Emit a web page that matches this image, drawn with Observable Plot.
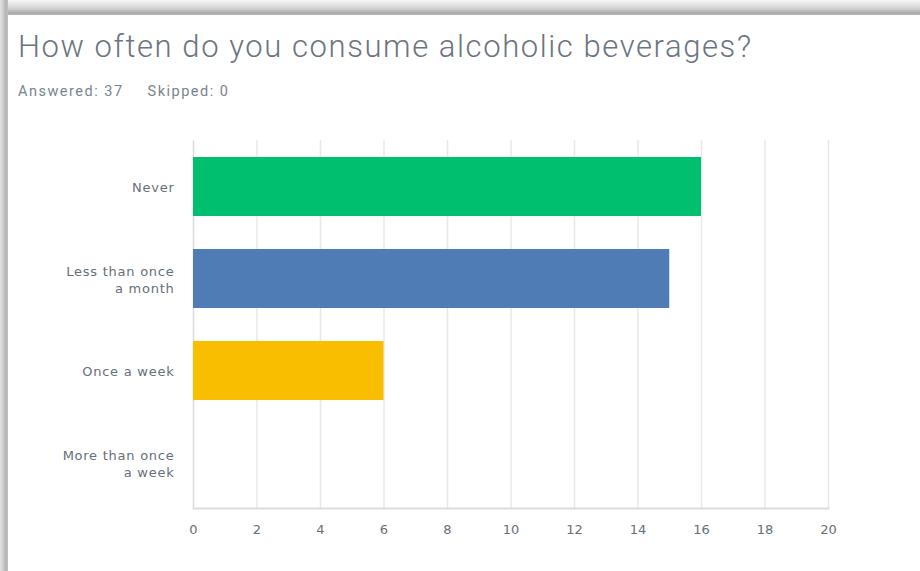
<!DOCTYPE html>
<html>
<head>
<meta charset="utf-8">
<script src="https://cdn.jsdelivr.net/npm/d3@7"></script>
<script src="https://cdn.jsdelivr.net/npm/@observablehq/plot@0.6"></script>
<style>
  html, body { margin: 0; padding: 0; width: 920px; height: 571px; overflow: hidden; background: #fff; }
  #topband { position: absolute; left: 0; top: 0; width: 920px; height: 15px;
             background: linear-gradient(#f6f6f6 0px, #e2e2e2 5px, #cfcfcf 9px, #a9a9a9 13px, #b8b8b8 15px); }
  #leftband { position: absolute; left: 0; top: 0; width: 8px; height: 571px;
              background: linear-gradient(90deg, #e2e2e2 0px, #cfcfcf 3px, #b2b2b2 6px, #c4c4c4 8px); }
  #card { position: absolute; left: 8px; top: 15px; width: 912px; height: 556px; background: #fff; }
  #title { position: absolute; left: 18px; top: 28px; font-family: Roboto, sans-serif; font-weight: 300;
           font-size: 31px; color: #6b7480; letter-spacing: 1.58px; white-space: nowrap; }
  #sub { position: absolute; left: 18px; top: 83px; font-family: Roboto, sans-serif; font-size: 14.5px; color: #7a848d;
         letter-spacing: 1.5px; white-space: nowrap; }
  #sub span { margin-right: 24px; }
  #chart { position: absolute; left: 0; top: 120px; }
  #chart svg g[aria-label="y-axis tick label"] text { letter-spacing: 0.75px; }
</style>
</head>
<body>
<div id="topband"></div>
<div id="leftband"></div>
<div id="card"></div>
<div id="title">How often do you consume alcoholic beverages?</div>
<div id="sub"><span>Answered: 37</span><span>Skipped: 0</span></div>
<div id="chart"></div>
<script>
const categories = ["Never", "Less than once a month", "Once a week", "More than once a week"];
const tickLabels = ["Never", "Less than once\na month", "Once a week", "More than once\na week"];
const counts = [16, 15, 6, 0];
const colors = ["#00bf6f", "#507cb6", "#f9be00", "#6bc8cd"];
const xTicks = [0, 2, 4, 6, 8, 10, 12, 14, 16, 18, 20];

const data = categories.map((c, i) => ({category: c, count: counts[i], color: colors[i]}));
const labelOf = new Map(categories.map((c, i) => [c, tickLabels[i]]));

const chart = Plot.plot({
  width: 900,
  height: 440,
  marginLeft: 193,
  marginRight: 72,
  marginTop: 20,
  marginBottom: 52,
  style: {fontFamily: "'DejaVu Sans', sans-serif", fontSize: "13px", color: "#66707a", background: "transparent"},
  x: {domain: [0, 20], ticks: xTicks, label: null},
  y: {domain: categories, label: null, paddingInner: 0.36, paddingOuter: 0.18},
  marks: [
    Plot.gridX(xTicks.filter(d => d > 0), {stroke: "#e8e8e8", strokeOpacity: 1, strokeWidth: 1.5}),
    Plot.ruleX([0], {stroke: "#dcdcdc", strokeWidth: 1.5}),
    Plot.barX(data, {x: "count", y: "category", fill: "color"}),
    Plot.axisX({ticks: xTicks, tickSize: 0, tickPadding: 16, anchor: "bottom", label: null}),
    Plot.axisY({tickSize: 0, tickPadding: 19, anchor: "left", label: null, tickFormat: d => labelOf.get(d), lineHeight: 1.3}),
    Plot.frame({anchor: "bottom", stroke: "#dcdcdc", strokeWidth: 2})
  ]
});
document.getElementById("chart").appendChild(chart);
</script>
</body>
</html>
